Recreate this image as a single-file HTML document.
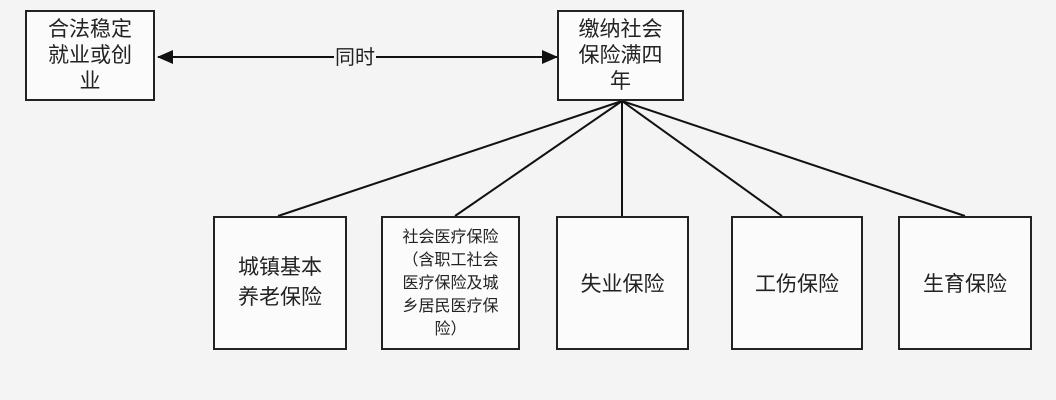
<!DOCTYPE html>
<html><head><meta charset="utf-8"><style>
body{margin:0;width:1056px;height:400px;background:#f4f4f4;overflow:hidden;font-family:"Liberation Sans","Noto Sans CJK SC",sans-serif;}
.b{position:absolute;border:2px solid #222;background:#fbfbfb;box-sizing:border-box;display:flex;align-items:center;justify-content:center;text-align:center;color:#222;}
</style></head><body>
<svg width="1056" height="400" style="position:absolute;left:0;top:0">
<defs><marker id="a" markerWidth="16" markerHeight="14" refX="15" refY="7" orient="auto" markerUnits="userSpaceOnUse"><path d="M0,0L16,7L0,14z" fill="#111"/></marker></defs>
<line x1="334" y1="57" x2="158" y2="57" stroke="#111" stroke-width="2" marker-end="url(#a)"/>
<line x1="376" y1="57" x2="557" y2="57" stroke="#111" stroke-width="2" marker-end="url(#a)"/>
<text x="355" y="64" font-size="20" text-anchor="middle" fill="#222" font-family="Noto Sans CJK SC">同时</text>
<g stroke="#111" stroke-width="2">
<line x1="622" y1="101" x2="278" y2="216"/>
<line x1="622" y1="101" x2="455" y2="216"/>
<line x1="622" y1="101" x2="622" y2="216"/>
<line x1="622" y1="101" x2="782" y2="216"/>
<line x1="622" y1="101" x2="965" y2="216"/>
</g></svg>
<div class="b" style="left:25px;top:10px;width:130px;height:91px;font-size:21px;line-height:26px">合法稳定<br>就业或创<br>业</div>
<div class="b" style="left:557px;top:10px;width:127px;height:91px;font-size:21px;line-height:26px">缴纳社会<br>保险满四<br>年</div>
<div class="b" style="left:213px;top:216px;width:134px;height:134px;font-size:21px;line-height:30px">城镇基本<br>养老保险</div>
<div class="b" style="left:381px;top:216px;width:139px;height:134px;font-size:16px;line-height:23px">社会医疗保险<br>（含职工社会<br>医疗保险及城<br>乡居民医疗保<br>险）</div>
<div class="b" style="left:556px;top:216px;width:133px;height:134px;font-size:21px">失业保险</div>
<div class="b" style="left:731px;top:216px;width:132px;height:134px;font-size:21px">工伤保险</div>
<div class="b" style="left:898px;top:216px;width:134px;height:134px;font-size:21px">生育保险</div>
</body></html>
